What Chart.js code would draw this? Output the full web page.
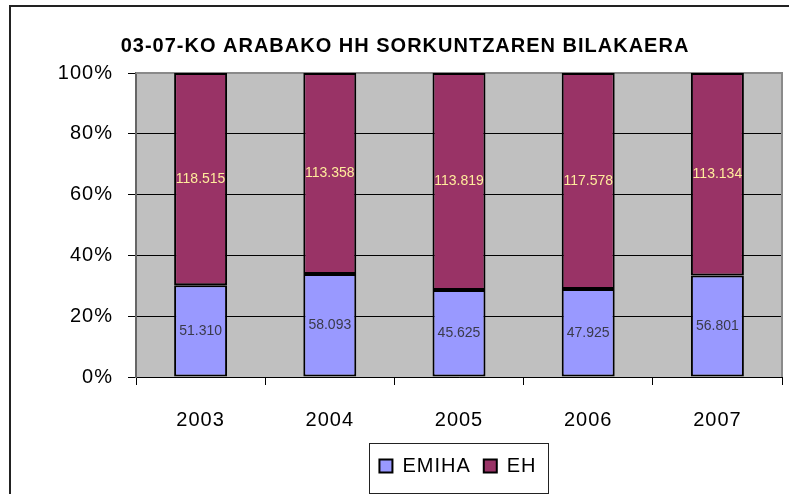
<!DOCTYPE html>
<html>
<head>
<meta charset="utf-8">
<script src="https://cdn.jsdelivr.net/npm/chart.js@4/dist/chart.umd.min.js"></script>
<style>
  html, body { margin:0; padding:0; background:#fff; }
  #wrap { width:789px; height:494px; position:relative; }
</style>
</head>
<body>
<div id="wrap"><canvas id="chart" width="789" height="494"></canvas></div>
<script>
const years = ["2003","2004","2005","2006","2007"];
const emiha = [51310, 58093, 45625, 47925, 56801];
const eh = [118515, 113358, 113819, 117578, 113134];
const yTicks = [0, 20, 40, 60, 80, 100];
const title = "03-07-KO ARABAKO HH SORKUNTZAREN BILAKAERA";

/* 100% stack */
const emihaPct = emiha.map((v,i) => v / (v + eh[i]) * 100);
const ehPct = eh.map((v,i) => v / (emiha[i] + v) * 100);
const rawValues = [emiha, eh];
const labelColors = ["#3a3a4a", "#ffec9c"];

const FONT = "'Liberation Sans', Arial, sans-serif";

function thousands(n){
  return String(n).replace(/\B(?=(\d{3})+(?!\d))/g, ".");
}

const frame = {
  id:"frame",
  beforeLayout(chart){ chart.ctx.letterSpacing = "1px"; },
  afterLayout(chart){
    // legend centred under the plot, not the canvas
    const lg = chart.legend;
    if(lg){ lg.left = 134; lg.right = 782; }
  },
  beforeDraw(chart){
    const ctx = chart.ctx;
    ctx.letterSpacing = "1px";
    const a = chart.chartArea;
    ctx.save();
    ctx.fillStyle = "#fff";
    ctx.fillRect(0,0,chart.width,chart.height);
    ctx.fillStyle = "#c0c0c0";
    ctx.fillRect(a.left, a.top, a.right-a.left, a.bottom-a.top);
    // outer border
    ctx.strokeStyle = "#222";
    ctx.lineWidth = 2;
    ctx.beginPath();
    ctx.moveTo(10, chart.height);
    ctx.lineTo(10, 6);
    ctx.lineTo(chart.width, 6);
    ctx.stroke();
    // title
    ctx.fillStyle = "#000";
    ctx.font = "bold 20px " + FONT;
    ctx.textAlign = "center";
    ctx.textBaseline = "middle";
    ctx.fillText(title, 405, 46);
    ctx.restore();
  },
  beforeDatasetsDraw(chart){
    const ctx = chart.ctx;
    const a = chart.chartArea;
    ctx.save();
    ctx.strokeStyle = "#8a8a8a";
    ctx.lineWidth = 2;
    ctx.beginPath();
    ctx.moveTo(a.left, a.top);
    ctx.lineTo(a.right, a.top);
    ctx.lineTo(a.right, a.bottom);
    ctx.stroke();
    ctx.restore();
  },
  afterDatasetsDraw(chart){
    const ctx = chart.ctx;
    ctx.save();
    ctx.letterSpacing = "0px";
    ctx.font = "14px " + FONT;
    ctx.textAlign = "center";
    ctx.textBaseline = "middle";
    rawValues.forEach((vals, i) => {
      const meta = chart.getDatasetMeta(i);
      ctx.fillStyle = labelColors[i];
      meta.data.forEach((bar, j) => {
        const p = bar.getProps(["x","y","base"], true);
        ctx.fillText(thousands(vals[j]), p.x, (p.y + p.base) / 2);
      });
    });
    ctx.restore();
  },
  afterDraw(chart){
    const lg = chart.legend;
    if(!lg || !lg.legendHitBoxes.length) return;
    const hb = lg.legendHitBoxes;
    const l = Math.min(...hb.map(h => h.left)) - 10;
    const r = Math.max(...hb.map(h => h.left + h.width)) + 12;
    const t = hb[0].top - 13;
    const ctx = chart.ctx;
    ctx.save();
    ctx.strokeStyle = "#222";
    ctx.lineWidth = 1;
    ctx.strokeRect(Math.round(l)+0.5, Math.round(t)+0.5, Math.round(r-l), 50);
    ctx.restore();
  }
};

new Chart(document.getElementById("chart"), {
  type:"bar",
  data:{
    labels:years,
    datasets:[
      {
        label:"EMIHA",
        data:emihaPct,
        backgroundColor:"#9999ff",
        borderColor:"#000",
        borderWidth:2,
        borderSkipped:false
      },
      {
        label:"EH",
        data:ehPct,
        backgroundColor:"#993366",
        borderColor:"#000",
        borderWidth:2,
        borderSkipped:false
      }
    ]
  },
  options:{
    responsive:false,
    animation:false,
    events:[],
    layout:{ padding:{ left:0, right:7, top:73, bottom:8 } },
    datasets:{ bar:{ categoryPercentage:1, barPercentage:0.41 } },
    scales:{
      x:{
        stacked:true,
        grid:{ offset:true, drawOnChartArea:false, drawTicks:true, tickLength:8, color:"#000" },
        border:{ color:"#000", width:1 },
        ticks:{ color:"#000", font:{ family:FONT, size:20 }, padding:23, maxRotation:0, autoSkip:false },
        afterFit(s){ s.height = 66; }
      },
      y:{
        stacked:true,
        min:0,
        max:100,
        afterBuildTicks(s){ s.ticks = yTicks.map(v => ({ value:v })); },
        grid:{ color:"#000", lineWidth:1, tickLength:8 },
        border:{ color:"#666", width:2 },
        ticks:{ color:"#000", font:{ family:FONT, size:20 }, padding:15, callback:v => v + "%" },
        afterFit(s){ s.width = 136; }
      }
    },
    plugins:{
      title:{ display:false },
      tooltip:{ enabled:false },
      legend:{
        position:"bottom",
        labels:{
          color:"#000",
          font:{ family:FONT, size:20 },
          boxWidth:13,
          boxHeight:13,
          padding:13
        }
      }
    }
  },
  plugins:[frame]
});
</script>
</body>
</html>
